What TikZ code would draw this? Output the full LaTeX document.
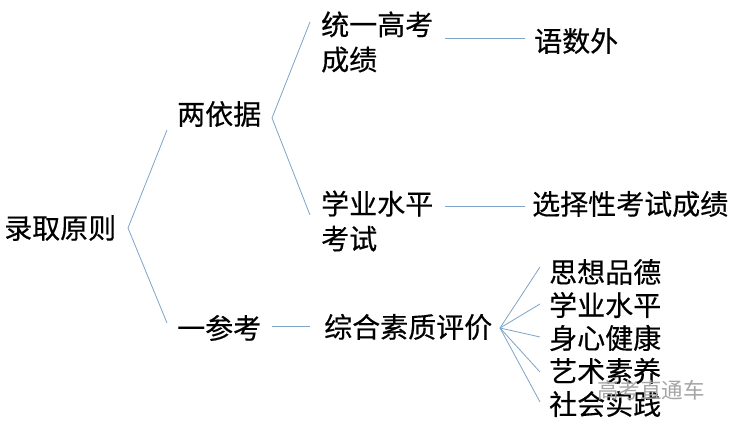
\documentclass[tikz,border=0pt]{standalone}
\usepackage{fontspec}
\setmainfont{Noto Sans CJK SC}[FakeBold=0.4]
\newfontfamily\wmfont{Noto Sans CJK SC}
\definecolor{linkblue}{RGB}{125,163,200}
\definecolor{wmgray}{RGB}{165,165,165}
\begin{document}
\begin{tikzpicture}[x=1pt,y=-1pt,
  lbl/.style={inner sep=0pt,anchor=west,font=\fontsize{28}{35}\selectfont,align=left},
  link/.style={draw=linkblue,line width=0.8pt}]
\useasboundingbox (0,0) rectangle (734,430);
\node[lbl] (root) at (4,228) {录取原则};
\node[lbl] (two) at (177,114) {两依据};
\node[lbl] (one) at (177,328) {一参考};
\node[lbl] (tk) at (321,42) {统一高考\\成绩};
\node[lbl] (xy) at (321,221) {学业水平\\考试};
\node[lbl] (ysw) at (534,41) {语数外};
\node[lbl] (xz) at (532,204) {选择性考试成绩};
\node[lbl] (zh) at (324,327) {综合素质评价};
\node[lbl] (s1) at (549,272) {思想品德};
\node[lbl] (s2) at (549,305) {学业水平};
\node[lbl] (s3) at (549,338) {身心健康};
\node[lbl] (s4) at (549,371) {艺术素养};
\node[lbl] (s5) at (549,404) {社会实践};
\node[inner sep=0pt,anchor=west,text=wmgray,font=\wmfont\fontsize{21.5}{24}\selectfont] (wm) at (597,390) {高考直通车};
% connector points
\coordinate (ra) at (128,228);
\coordinate (rt) at (167,130);
\coordinate (rb) at (167,323);
\coordinate (ta) at (272,118);
\coordinate (tt) at (310,22);
\coordinate (tb) at (310,215);
\coordinate (oa) at (272,326);
\coordinate (ob) at (310,326);
\coordinate (k1) at (445,38);
\coordinate (k2) at (525,38);
\coordinate (x1) at (445,206);
\coordinate (x2) at (525,206);
\coordinate (za) at (500,328);
\coordinate (e1) at (540,267);
\coordinate (e2) at (540,304);
\coordinate (e3) at (540,337);
\coordinate (e4) at (540,372);
\coordinate (e5) at (540,402);
\draw[link] (rt) -- (ra) -- (rb);
\draw[link] (tt) -- (ta) -- (tb);
\draw[link] (oa) -- (ob);
\draw[link] (k1) -- (k2);
\draw[link] (x1) -- (x2);
\foreach \e in {e1,e2,e3,e4,e5} \draw[link] (za) -- (\e);
\end{tikzpicture}
\end{document}
